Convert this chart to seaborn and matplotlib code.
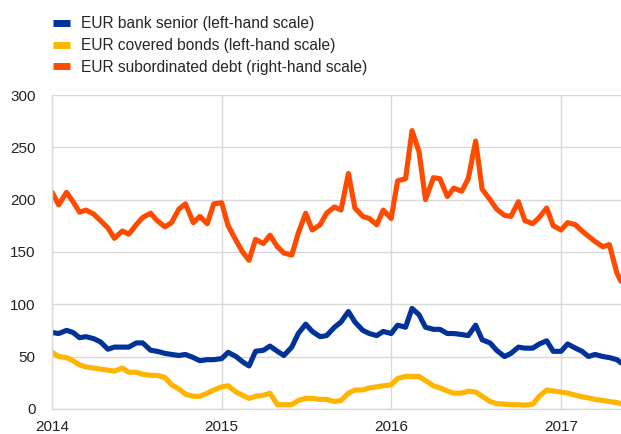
import pandas as pd
import seaborn as sns
import matplotlib.pyplot as plt
from matplotlib.lines import Line2D

dates = pd.date_range("2014-01-01", "2017-05-01", freq="SMS").append(pd.DatetimeIndex(["2017-05-10"]))

senior = [73, 72, 75, 73, 68, 69, 67, 64, 57, 59, 59, 59, 63, 63, 56, 55, 53, 52, 51, 52, 49, 46, 47, 47,
          48, 54, 50, 45, 41, 55, 56, 60, 55, 51, 59, 72, 81, 74, 69, 70, 78, 83, 93, 83, 75, 72, 70, 74,
          72, 80, 78, 96, 90, 78, 76, 76, 72, 72, 71, 70, 80, 66, 63, 56, 50, 53, 59, 58, 58, 62, 65, 55,
          55, 62, 58, 55, 50, 52, 50, 49, 47, 44]
covered = [54, 50, 49, 46, 42, 40, 39, 38, 37, 36, 39, 35, 35, 33, 32, 32, 30, 23, 19, 14, 12, 12, 15, 18,
           21, 22, 16, 13, 10, 12, 13, 15, 4, 4, 4, 8, 10, 10, 9, 9, 7, 8, 15, 18, 18, 20, 21, 22,
           23, 29, 31, 31, 31, 27, 22, 20, 17, 15, 15, 17, 16, 12, 7, 5, 4.5, 4, 4, 3.5, 4.5, 12, 18, 17,
           16, 15, 13, 11.5, 10.5, 9, 8, 7, 6, 5]
subordinated = [207, 195, 207, 198, 188, 190, 186, 180, 173, 163, 170, 167, 176, 183, 187, 180, 174, 178, 191, 196, 178, 184, 177, 196,
                197, 175, 161, 150, 142, 162, 158, 166, 155, 149, 147, 168, 187, 171, 176, 187, 193, 190, 225, 192, 184, 182, 176, 190,
                182, 218, 220, 266, 246, 200, 221, 220, 203, 211, 208, 220, 256, 210, 200, 191, 185, 184, 198, 180, 177, 183, 192, 175,
                171, 178, 176, 170, 165, 160, 155, 157, 130, 122]

labels = ["EUR bank senior (left-hand scale)",
          "EUR covered bonds (left-hand scale)",
          "EUR subordinated debt (right-hand scale)"]
colors = ["#003299", "#ffb400", "#ff4b00"]
years = [2014, 2015, 2016, 2017]

n = len(dates)
df = pd.DataFrame({
    "date": list(dates) * 3,
    "value": senior + covered + subordinated,
    "series": [labels[0]] * n + [labels[1]] * n + [labels[2]] * n,
})

sns.set_style("white")
plt.rcParams["font.family"] = ["Liberation Sans", "DejaVu Sans"]

fig = plt.figure(figsize=(6.21, 4.34), dpi=100)
ax = fig.add_axes([0.084, 0.058, 0.916, 0.723])

sns.lineplot(data=df, x="date", y="value", hue="series", palette=colors,
             linewidth=3.7, estimator=None, legend=False, ax=ax)

ax.set_ylim(0, 300)
ax.set_yticks([0, 50, 100, 150, 200, 250, 300])
ax.set_xlim(pd.Timestamp("2014-01-01"), pd.Timestamp("2017-05-10"))
ax.set_xticks([pd.Timestamp(f"{y}-01-01") for y in years])
ax.set_xticklabels([str(y) for y in years])
ax.set_xlabel("")
ax.set_ylabel("")
ax.grid(True, color="#d9d9d9", linewidth=1)
ax.set_axisbelow(True)
ax.tick_params(length=0, labelsize=11, colors="#222222")
ax.tick_params(axis="y", pad=12)
ax.tick_params(axis="x", pad=8)
for s in ["top", "right"]:
    ax.spines[s].set_visible(False)
for s in ["left", "bottom"]:
    ax.spines[s].set_color("#d9d9d9")
    ax.spines[s].set_linewidth(1)

handles = [Line2D([], [], color=c, linewidth=5, solid_capstyle="butt") for c in colors]
fig.legend(handles, labels, loc="upper left", bbox_to_anchor=(0.085, 0.962),
           frameon=False, fontsize=11.2, handlelength=1.1, handletextpad=0.7,
           labelspacing=0.42, borderpad=0, borderaxespad=0)

fig.savefig("out.png", dpi=100)
